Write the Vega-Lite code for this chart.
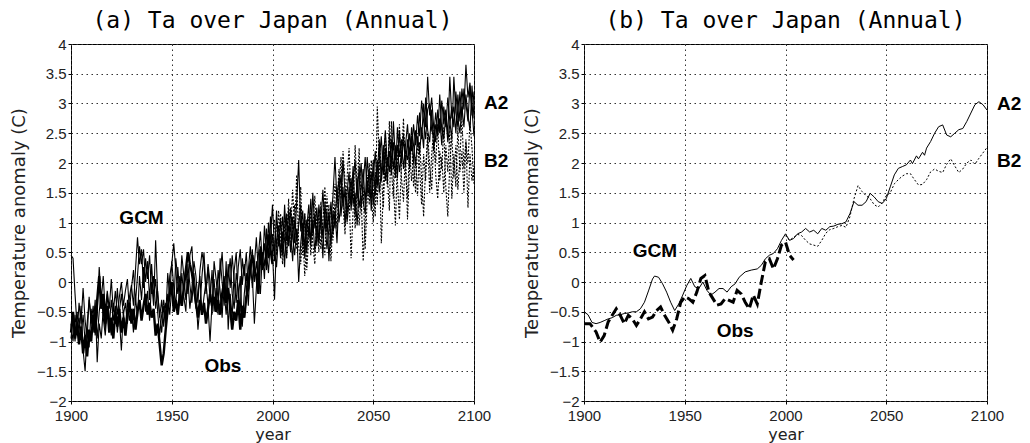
{
"$schema": "https://vega.github.io/schema/vega-lite/v6.json",
"autosize": {"type": "pad"},
"padding": {"left": 9, "top": 9, "right": 0, "bottom": 0},
"background": "white",
"spacing": 110,
"bounds": "flush",
"config": {
 "view": {"stroke": "black", "strokeWidth": 1},
 "axis": {"labelFont": "Liberation Sans", "labelFontSize": 15, "labelColor": "#222", "titleFont": "DejaVu Sans", "titleFontSize": 17, "titleFontWeight": "normal", "titleColor": "#222", "domain": false, "tickColor": "black", "tickSize": 3, "gridColor": "#333", "gridDash": [1.5, 3.5], "gridWidth": 1, "gridOpacity": 1},
 "axisX": {"titleFontSize": 16},
 "axisY": {"titleFontSize": 18},
 "title": {"font": "DejaVu Sans Mono", "fontSize": 23, "fontWeight": "normal", "color": "black", "anchor": "middle", "baseline": "alphabetic", "offset": 0},
 "text": {"font": "Liberation Sans", "fontSize": 19, "fontWeight": "bold", "color": "black"}
},
"datasets": {
"a": [
{"s":"g1","x":1900,"y":0.45},{"s":"g1","x":1901,"y":0.4},{"s":"g1","x":1902,"y":-0.2},{"s":"g1","x":1903,"y":-0.75},{"s":"g1","x":1904,"y":-0.6},{"s":"g1","x":1905,"y":-0.9},{"s":"g1","x":1906,"y":-0.55},{"s":"g1","x":1907,"y":-1.0},{"s":"g1","x":1908,"y":-0.7},{"s":"g1","x":1909,"y":-0.3},
{"s":"g1","x":1910,"y":-0.6},{"s":"g1","x":1911,"y":-0.85},{"s":"g1","x":1912,"y":-0.4},{"s":"g1","x":1913,"y":-0.95},{"s":"g1","x":1914,"y":-0.5},{"s":"g1","x":1915,"y":-0.2},{"s":"g1","x":1916,"y":-0.6},{"s":"g1","x":1917,"y":-0.9},{"s":"g1","x":1918,"y":-0.45},{"s":"g1","x":1919,"y":-0.75},
{"s":"g1","x":1920,"y":-0.3},{"s":"g1","x":1921,"y":-0.65},{"s":"g1","x":1922,"y":-0.4},{"s":"g1","x":1923,"y":-0.85},{"s":"g1","x":1924,"y":-0.5},{"s":"g1","x":1925,"y":-0.2},{"s":"g1","x":1926,"y":-0.55},{"s":"g1","x":1927,"y":-0.35},{"s":"g1","x":1928,"y":-0.7},{"s":"g1","x":1929,"y":-0.25},
{"s":"g1","x":1930,"y":-0.05},{"s":"g1","x":1931,"y":-0.4},{"s":"g1","x":1932,"y":0.2},{"s":"g1","x":1933,"y":0.75},{"s":"g1","x":1934,"y":0.3},{"s":"g1","x":1935,"y":0.55},{"s":"g1","x":1936,"y":-0.1},{"s":"g1","x":1937,"y":0.4},{"s":"g1","x":1938,"y":0.05},{"s":"g1","x":1939,"y":0.45},
{"s":"g1","x":1940,"y":-0.2},{"s":"g1","x":1941,"y":0.1},{"s":"g1","x":1942,"y":-0.45},{"s":"g1","x":1943,"y":-0.15},{"s":"g1","x":1944,"y":-0.6},{"s":"g1","x":1945,"y":-0.3},{"s":"g1","x":1946,"y":-0.75},{"s":"g1","x":1947,"y":-0.35},{"s":"g1","x":1948,"y":-0.55},{"s":"g1","x":1949,"y":0.1},
{"s":"g1","x":1950,"y":0.3},{"s":"g1","x":1951,"y":0.65},{"s":"g1","x":1952,"y":0.2},{"s":"g1","x":1953,"y":-0.2},{"s":"g1","x":1954,"y":0.1},{"s":"g1","x":1955,"y":-0.35},{"s":"g1","x":1956,"y":-0.1},{"s":"g1","x":1957,"y":0.25},{"s":"g1","x":1958,"y":-0.2},{"s":"g1","x":1959,"y":0.45},
{"s":"g1","x":1960,"y":0.6},{"s":"g1","x":1961,"y":-0.1},{"s":"g1","x":1962,"y":-0.45},{"s":"g1","x":1963,"y":-0.2},{"s":"g1","x":1964,"y":0.1},{"s":"g1","x":1965,"y":-0.55},{"s":"g1","x":1966,"y":-0.25},{"s":"g1","x":1967,"y":0.0},{"s":"g1","x":1968,"y":-0.4},{"s":"g1","x":1969,"y":-1.0},
{"s":"g1","x":1970,"y":-0.35},{"s":"g1","x":1971,"y":0.05},{"s":"g1","x":1972,"y":-0.45},{"s":"g1","x":1973,"y":0.2},{"s":"g1","x":1974,"y":-0.15},{"s":"g1","x":1975,"y":-0.6},{"s":"g1","x":1976,"y":0.1},{"s":"g1","x":1977,"y":-0.25},{"s":"g1","x":1978,"y":0.3},{"s":"g1","x":1979,"y":-0.1},
{"s":"g1","x":1980,"y":0.45},{"s":"g1","x":1981,"y":0.0},{"s":"g1","x":1982,"y":-0.35},{"s":"g1","x":1983,"y":0.25},{"s":"g1","x":1984,"y":0.55},{"s":"g1","x":1985,"y":-0.05},{"s":"g1","x":1986,"y":0.3},{"s":"g1","x":1987,"y":-0.2},{"s":"g1","x":1988,"y":0.2},{"s":"g1","x":1989,"y":0.6},
{"s":"g1","x":1990,"y":0.1},{"s":"g1","x":1991,"y":-0.7},{"s":"g1","x":1992,"y":-0.1},{"s":"g1","x":1993,"y":0.45},{"s":"g1","x":1994,"y":0.85},{"s":"g1","x":1995,"y":0.3},{"s":"g1","x":1996,"y":0.65},{"s":"g1","x":1997,"y":0.2},{"s":"g1","x":1998,"y":1.0},{"s":"g1","x":1999,"y":0.55},
{"s":"g1","x":2000,"y":0.8},{"s":"g1","x":2001,"y":0.35},{"s":"g1","x":2002,"y":1.2},{"s":"g1","x":2003,"y":0.6},{"s":"g1","x":2004,"y":1.05},{"s":"g1","x":2005,"y":0.45},{"s":"g1","x":2006,"y":1.3},{"s":"g1","x":2007,"y":0.7},{"s":"g1","x":2008,"y":0.95},{"s":"g1","x":2009,"y":0.5},
{"s":"g1","x":2010,"y":1.1},{"s":"g1","x":2011,"y":0.65},{"s":"g1","x":2012,"y":1.35},{"s":"g1","x":2013,"y":2.05},{"s":"g1","x":2014,"y":0.85},{"s":"g1","x":2015,"y":1.2},{"s":"g1","x":2016,"y":0.55},{"s":"g1","x":2017,"y":1.05},{"s":"g1","x":2018,"y":0.75},{"s":"g1","x":2019,"y":1.4},
{"s":"g1","x":2020,"y":0.8},{"s":"g1","x":2021,"y":1.15},{"s":"g1","x":2022,"y":0.6},{"s":"g1","x":2023,"y":1.3},{"s":"g1","x":2024,"y":0.95},{"s":"g1","x":2025,"y":1.55},{"s":"g1","x":2026,"y":0.9},{"s":"g1","x":2027,"y":1.2},{"s":"g1","x":2028,"y":0.35},{"s":"g1","x":2029,"y":1.0},
{"s":"g1","x":2030,"y":1.45},{"s":"g1","x":2031,"y":2.1},{"s":"g1","x":2032,"y":1.35},{"s":"g1","x":2033,"y":1.75},{"s":"g1","x":2034,"y":1.1},{"s":"g1","x":2035,"y":1.6},{"s":"g1","x":2036,"y":0.95},{"s":"g1","x":2037,"y":1.5},{"s":"g1","x":2038,"y":1.85},{"s":"g1","x":2039,"y":1.2},
{"s":"g1","x":2040,"y":1.7},{"s":"g1","x":2041,"y":2.05},{"s":"g1","x":2042,"y":1.4},{"s":"g1","x":2043,"y":1.95},{"s":"g1","x":2044,"y":1.25},{"s":"g1","x":2045,"y":1.65},{"s":"g1","x":2046,"y":2.1},{"s":"g1","x":2047,"y":1.5},{"s":"g1","x":2048,"y":1.9},{"s":"g1","x":2049,"y":1.2},
{"s":"g1","x":2050,"y":1.75},{"s":"g1","x":2051,"y":2.2},{"s":"g1","x":2052,"y":1.6},{"s":"g1","x":2053,"y":2.05},{"s":"g1","x":2054,"y":2.45},{"s":"g1","x":2055,"y":1.8},{"s":"g1","x":2056,"y":2.25},{"s":"g1","x":2057,"y":1.65},{"s":"g1","x":2058,"y":2.5},{"s":"g1","x":2059,"y":2.0},
{"s":"g1","x":2060,"y":2.35},{"s":"g1","x":2061,"y":1.75},{"s":"g1","x":2062,"y":2.6},{"s":"g1","x":2063,"y":2.1},{"s":"g1","x":2064,"y":2.4},{"s":"g1","x":2065,"y":1.9},{"s":"g1","x":2066,"y":2.3},{"s":"g1","x":2067,"y":2.65},{"s":"g1","x":2068,"y":2.15},{"s":"g1","x":2069,"y":2.45},
{"s":"g1","x":2070,"y":2.0},{"s":"g1","x":2071,"y":2.55},{"s":"g1","x":2072,"y":2.3},{"s":"g1","x":2073,"y":2.85},{"s":"g1","x":2074,"y":2.4},{"s":"g1","x":2075,"y":3.0},{"s":"g1","x":2076,"y":2.6},{"s":"g1","x":2077,"y":3.45},{"s":"g1","x":2078,"y":2.8},{"s":"g1","x":2079,"y":3.1},
{"s":"g1","x":2080,"y":2.6},{"s":"g1","x":2081,"y":2.35},{"s":"g1","x":2082,"y":2.9},{"s":"g1","x":2083,"y":2.5},{"s":"g1","x":2084,"y":3.05},{"s":"g1","x":2085,"y":2.65},{"s":"g1","x":2086,"y":2.9},{"s":"g1","x":2087,"y":2.45},{"s":"g1","x":2088,"y":3.45},{"s":"g1","x":2089,"y":2.75},
{"s":"g1","x":2090,"y":2.95},{"s":"g1","x":2091,"y":2.5},{"s":"g1","x":2092,"y":3.15},{"s":"g1","x":2093,"y":2.7},{"s":"g1","x":2094,"y":3.25},{"s":"g1","x":2095,"y":2.9},{"s":"g1","x":2096,"y":3.65},{"s":"g1","x":2097,"y":3.1},{"s":"g1","x":2098,"y":3.35},{"s":"g1","x":2099,"y":2.8},{"s":"g1","x":2100,"y":3.2},
{"s":"g2","x":1900,"y":-0.95},{"s":"g2","x":1901,"y":-0.6},{"s":"g2","x":1902,"y":-1.0},{"s":"g2","x":1903,"y":-0.5},{"s":"g2","x":1904,"y":-0.85},{"s":"g2","x":1905,"y":-0.4},{"s":"g2","x":1906,"y":-1.15},{"s":"g2","x":1907,"y":-1.5},{"s":"g2","x":1908,"y":-0.8},{"s":"g2","x":1909,"y":-1.1},
{"s":"g2","x":1910,"y":-0.45},{"s":"g2","x":1911,"y":-0.75},{"s":"g2","x":1912,"y":-0.3},{"s":"g2","x":1913,"y":-1.35},{"s":"g2","x":1914,"y":-0.7},{"s":"g2","x":1915,"y":-0.95},{"s":"g2","x":1916,"y":-0.45},{"s":"g2","x":1917,"y":-0.8},{"s":"g2","x":1918,"y":-0.2},{"s":"g2","x":1919,"y":-0.6},
{"s":"g2","x":1920,"y":-0.9},{"s":"g2","x":1921,"y":-0.35},{"s":"g2","x":1922,"y":-0.7},{"s":"g2","x":1923,"y":-0.1},{"s":"g2","x":1924,"y":-0.6},{"s":"g2","x":1925,"y":-1.15},{"s":"g2","x":1926,"y":-0.5},{"s":"g2","x":1927,"y":-0.8},{"s":"g2","x":1928,"y":-0.3},{"s":"g2","x":1929,"y":-0.65},
{"s":"g2","x":1930,"y":-0.45},{"s":"g2","x":1931,"y":-0.85},{"s":"g2","x":1932,"y":-0.25},{"s":"g2","x":1933,"y":-0.6},{"s":"g2","x":1934,"y":0.1},{"s":"g2","x":1935,"y":-0.3},{"s":"g2","x":1936,"y":0.25},{"s":"g2","x":1937,"y":-0.5},{"s":"g2","x":1938,"y":-0.15},{"s":"g2","x":1939,"y":-0.65},
{"s":"g2","x":1940,"y":0.0},{"s":"g2","x":1941,"y":-0.4},{"s":"g2","x":1942,"y":0.7},{"s":"g2","x":1943,"y":-0.2},{"s":"g2","x":1944,"y":-0.55},{"s":"g2","x":1945,"y":-0.85},{"s":"g2","x":1946,"y":-0.4},{"s":"g2","x":1947,"y":-0.7},{"s":"g2","x":1948,"y":-0.2},{"s":"g2","x":1949,"y":-0.55},
{"s":"g2","x":1950,"y":-0.1},{"s":"g2","x":1951,"y":-0.45},{"s":"g2","x":1952,"y":0.4},{"s":"g2","x":1953,"y":0.05},{"s":"g2","x":1954,"y":-0.4},{"s":"g2","x":1955,"y":0.15},{"s":"g2","x":1956,"y":-0.25},{"s":"g2","x":1957,"y":-0.5},{"s":"g2","x":1958,"y":0.3},{"s":"g2","x":1959,"y":-0.05},
{"s":"g2","x":1960,"y":-0.35},{"s":"g2","x":1961,"y":0.15},{"s":"g2","x":1962,"y":-0.2},{"s":"g2","x":1963,"y":-0.8},{"s":"g2","x":1964,"y":-0.4},{"s":"g2","x":1965,"y":0.1},{"s":"g2","x":1966,"y":0.5},{"s":"g2","x":1967,"y":-0.15},{"s":"g2","x":1968,"y":0.25},{"s":"g2","x":1969,"y":-0.3},
{"s":"g2","x":1970,"y":0.2},{"s":"g2","x":1971,"y":-0.5},{"s":"g2","x":1972,"y":-0.1},{"s":"g2","x":1973,"y":-0.55},{"s":"g2","x":1974,"y":0.4},{"s":"g2","x":1975,"y":0.0},{"s":"g2","x":1976,"y":-0.4},{"s":"g2","x":1977,"y":0.35},{"s":"g2","x":1978,"y":-0.8},{"s":"g2","x":1979,"y":-0.2},
{"s":"g2","x":1980,"y":-0.6},{"s":"g2","x":1981,"y":0.2},{"s":"g2","x":1982,"y":0.5},{"s":"g2","x":1983,"y":-0.3},{"s":"g2","x":1984,"y":0.1},{"s":"g2","x":1985,"y":-0.75},{"s":"g2","x":1986,"y":-0.2},{"s":"g2","x":1987,"y":0.15},{"s":"g2","x":1988,"y":-0.4},{"s":"g2","x":1989,"y":0.35},
{"s":"g2","x":1990,"y":-0.1},{"s":"g2","x":1991,"y":0.3},{"s":"g2","x":1992,"y":0.75},{"s":"g2","x":1993,"y":0.15},{"s":"g2","x":1994,"y":-0.2},{"s":"g2","x":1995,"y":0.5},{"s":"g2","x":1996,"y":0.05},{"s":"g2","x":1997,"y":0.9},{"s":"g2","x":1998,"y":0.4},{"s":"g2","x":1999,"y":1.1},
{"s":"g2","x":2000,"y":0.5},{"s":"g2","x":2001,"y":-0.3},{"s":"g2","x":2002,"y":0.7},{"s":"g2","x":2003,"y":0.95},{"s":"g2","x":2004,"y":0.4},{"s":"g2","x":2005,"y":0.85},{"s":"g2","x":2006,"y":0.25},{"s":"g2","x":2007,"y":1.15},{"s":"g2","x":2008,"y":0.6},{"s":"g2","x":2009,"y":1.25},
{"s":"g2","x":2010,"y":0.75},{"s":"g2","x":2011,"y":0.45},{"s":"g2","x":2012,"y":0.9},{"s":"g2","x":2013,"y":0.0},{"s":"g2","x":2014,"y":0.65},{"s":"g2","x":2015,"y":1.0},{"s":"g2","x":2016,"y":0.4},{"s":"g2","x":2017,"y":0.9},{"s":"g2","x":2018,"y":1.3},{"s":"g2","x":2019,"y":0.7},
{"s":"g2","x":2020,"y":1.05},{"s":"g2","x":2021,"y":0.5},{"s":"g2","x":2022,"y":0.95},{"s":"g2","x":2023,"y":0.65},{"s":"g2","x":2024,"y":1.25},{"s":"g2","x":2025,"y":0.75},{"s":"g2","x":2026,"y":1.1},{"s":"g2","x":2027,"y":0.55},{"s":"g2","x":2028,"y":0.9},{"s":"g2","x":2029,"y":1.35},
{"s":"g2","x":2030,"y":0.8},{"s":"g2","x":2031,"y":1.2},{"s":"g2","x":2032,"y":0.65},{"s":"g2","x":2033,"y":1.45},{"s":"g2","x":2034,"y":1.8},{"s":"g2","x":2035,"y":1.25},{"s":"g2","x":2036,"y":1.55},{"s":"g2","x":2037,"y":1.0},{"s":"g2","x":2038,"y":1.35},{"s":"g2","x":2039,"y":1.75},
{"s":"g2","x":2040,"y":1.3},{"s":"g2","x":2041,"y":1.5},{"s":"g2","x":2042,"y":0.95},{"s":"g2","x":2043,"y":1.6},{"s":"g2","x":2044,"y":2.0},{"s":"g2","x":2045,"y":1.35},{"s":"g2","x":2046,"y":1.15},{"s":"g2","x":2047,"y":1.7},{"s":"g2","x":2048,"y":1.45},{"s":"g2","x":2049,"y":1.85},
{"s":"g2","x":2050,"y":1.3},{"s":"g2","x":2051,"y":1.6},{"s":"g2","x":2052,"y":2.05},{"s":"g2","x":2053,"y":1.5},{"s":"g2","x":2054,"y":1.85},{"s":"g2","x":2055,"y":2.3},{"s":"g2","x":2056,"y":1.7},{"s":"g2","x":2057,"y":2.1},{"s":"g2","x":2058,"y":1.85},{"s":"g2","x":2059,"y":2.4},
{"s":"g2","x":2060,"y":1.9},{"s":"g2","x":2061,"y":2.25},{"s":"g2","x":2062,"y":1.75},{"s":"g2","x":2063,"y":2.55},{"s":"g2","x":2064,"y":2.0},{"s":"g2","x":2065,"y":2.35},{"s":"g2","x":2066,"y":2.2},{"s":"g2","x":2067,"y":2.05},{"s":"g2","x":2068,"y":2.5},{"s":"g2","x":2069,"y":2.2},
{"s":"g2","x":2070,"y":2.65},{"s":"g2","x":2071,"y":2.3},{"s":"g2","x":2072,"y":2.8},{"s":"g2","x":2073,"y":2.45},{"s":"g2","x":2074,"y":3.05},{"s":"g2","x":2075,"y":2.7},{"s":"g2","x":2076,"y":2.4},{"s":"g2","x":2077,"y":2.9},{"s":"g2","x":2078,"y":3.0},{"s":"g2","x":2079,"y":2.55},
{"s":"g2","x":2080,"y":2.45},{"s":"g2","x":2081,"y":2.85},{"s":"g2","x":2082,"y":2.5},{"s":"g2","x":2083,"y":2.75},{"s":"g2","x":2084,"y":2.3},{"s":"g2","x":2085,"y":2.95},{"s":"g2","x":2086,"y":2.6},{"s":"g2","x":2087,"y":3.1},{"s":"g2","x":2088,"y":2.7},{"s":"g2","x":2089,"y":2.4},
{"s":"g2","x":2090,"y":3.45},{"s":"g2","x":2091,"y":2.85},{"s":"g2","x":2092,"y":2.6},{"s":"g2","x":2093,"y":3.2},{"s":"g2","x":2094,"y":2.75},{"s":"g2","x":2095,"y":3.25},{"s":"g2","x":2096,"y":3.0},{"s":"g2","x":2097,"y":2.7},{"s":"g2","x":2098,"y":3.3},{"s":"g2","x":2099,"y":2.9},{"s":"g2","x":2100,"y":2.45},
{"s":"g3","x":1900,"y":-0.7},{"s":"g3","x":1901,"y":-1.0},{"s":"g3","x":1902,"y":-0.55},{"s":"g3","x":1903,"y":-0.9},{"s":"g3","x":1904,"y":-0.35},{"s":"g3","x":1905,"y":-0.7},{"s":"g3","x":1906,"y":-0.1},{"s":"g3","x":1907,"y":-0.65},{"s":"g3","x":1908,"y":-0.95},{"s":"g3","x":1909,"y":-0.25},
{"s":"g3","x":1910,"y":-0.7},{"s":"g3","x":1911,"y":-0.4},{"s":"g3","x":1912,"y":-0.9},{"s":"g3","x":1913,"y":-0.55},{"s":"g3","x":1914,"y":0.25},{"s":"g3","x":1915,"y":-0.3},{"s":"g3","x":1916,"y":0.1},{"s":"g3","x":1917,"y":-0.5},{"s":"g3","x":1918,"y":-0.15},{"s":"g3","x":1919,"y":-0.45},
{"s":"g3","x":1920,"y":0.05},{"s":"g3","x":1921,"y":-0.5},{"s":"g3","x":1922,"y":-0.15},{"s":"g3","x":1923,"y":-0.55},{"s":"g3","x":1924,"y":-0.25},{"s":"g3","x":1925,"y":0.0},{"s":"g3","x":1926,"y":-0.4},{"s":"g3","x":1927,"y":-0.15},{"s":"g3","x":1928,"y":0.05},{"s":"g3","x":1929,"y":-0.5},
{"s":"g3","x":1930,"y":-0.1},{"s":"g3","x":1931,"y":0.2},{"s":"g3","x":1932,"y":-0.35},{"s":"g3","x":1933,"y":0.1},{"s":"g3","x":1934,"y":0.6},{"s":"g3","x":1935,"y":0.3},{"s":"g3","x":1936,"y":0.55},{"s":"g3","x":1937,"y":0.0},{"s":"g3","x":1938,"y":0.35},{"s":"g3","x":1939,"y":-0.3},
{"s":"g3","x":1940,"y":0.3},{"s":"g3","x":1941,"y":-0.25},{"s":"g3","x":1942,"y":0.05},{"s":"g3","x":1943,"y":-0.5},{"s":"g3","x":1944,"y":-0.9},{"s":"g3","x":1945,"y":-0.55},{"s":"g3","x":1946,"y":-0.3},{"s":"g3","x":1947,"y":-0.6},{"s":"g3","x":1948,"y":0.15},{"s":"g3","x":1949,"y":-0.25},
{"s":"g3","x":1950,"y":0.35},{"s":"g3","x":1951,"y":-0.1},{"s":"g3","x":1952,"y":-0.4},{"s":"g3","x":1953,"y":0.25},{"s":"g3","x":1954,"y":-0.2},{"s":"g3","x":1955,"y":0.45},{"s":"g3","x":1956,"y":0.1},{"s":"g3","x":1957,"y":-0.3},{"s":"g3","x":1958,"y":0.05},{"s":"g3","x":1959,"y":-0.45},
{"s":"g3","x":1960,"y":-0.1},{"s":"g3","x":1961,"y":0.35},{"s":"g3","x":1962,"y":0.1},{"s":"g3","x":1963,"y":-0.35},{"s":"g3","x":1964,"y":0.2},{"s":"g3","x":1965,"y":0.5},{"s":"g3","x":1966,"y":0.3},{"s":"g3","x":1967,"y":-0.2},{"s":"g3","x":1968,"y":0.3},{"s":"g3","x":1969,"y":0.0},
{"s":"g3","x":1970,"y":-0.55},{"s":"g3","x":1971,"y":0.35},{"s":"g3","x":1972,"y":0.05},{"s":"g3","x":1973,"y":-0.3},{"s":"g3","x":1974,"y":0.15},{"s":"g3","x":1975,"y":0.5},{"s":"g3","x":1976,"y":-0.15},{"s":"g3","x":1977,"y":-0.55},{"s":"g3","x":1978,"y":0.05},{"s":"g3","x":1979,"y":0.4},
{"s":"g3","x":1980,"y":-0.2},{"s":"g3","x":1981,"y":-0.45},{"s":"g3","x":1982,"y":0.15},{"s":"g3","x":1983,"y":-0.1},{"s":"g3","x":1984,"y":-0.5},{"s":"g3","x":1985,"y":0.4},{"s":"g3","x":1986,"y":0.1},{"s":"g3","x":1987,"y":0.5},{"s":"g3","x":1988,"y":-0.15},{"s":"g3","x":1989,"y":0.15},
{"s":"g3","x":1990,"y":0.55},{"s":"g3","x":1991,"y":0.0},{"s":"g3","x":1992,"y":0.35},{"s":"g3","x":1993,"y":-0.05},{"s":"g3","x":1994,"y":0.6},{"s":"g3","x":1995,"y":0.2},{"s":"g3","x":1996,"y":0.95},{"s":"g3","x":1997,"y":0.5},{"s":"g3","x":1998,"y":0.15},{"s":"g3","x":1999,"y":0.75},
{"s":"g3","x":2000,"y":1.3},{"s":"g3","x":2001,"y":0.55},{"s":"g3","x":2002,"y":0.25},{"s":"g3","x":2003,"y":0.8},{"s":"g3","x":2004,"y":0.5},{"s":"g3","x":2005,"y":1.1},{"s":"g3","x":2006,"y":0.7},{"s":"g3","x":2007,"y":0.4},{"s":"g3","x":2008,"y":1.2},{"s":"g3","x":2009,"y":0.85},
{"s":"g3","x":2010,"y":0.35},{"s":"g3","x":2011,"y":1.05},{"s":"g3","x":2012,"y":0.7},{"s":"g3","x":2013,"y":0.95},{"s":"g3","x":2014,"y":1.3},{"s":"g3","x":2015,"y":0.6},{"s":"g3","x":2016,"y":1.15},{"s":"g3","x":2017,"y":0.5},{"s":"g3","x":2018,"y":0.95},{"s":"g3","x":2019,"y":0.6},
{"s":"g3","x":2020,"y":1.5},{"s":"g3","x":2021,"y":0.9},{"s":"g3","x":2022,"y":1.25},{"s":"g3","x":2023,"y":0.7},{"s":"g3","x":2024,"y":1.05},{"s":"g3","x":2025,"y":0.4},{"s":"g3","x":2026,"y":1.35},{"s":"g3","x":2027,"y":0.85},{"s":"g3","x":2028,"y":1.15},{"s":"g3","x":2029,"y":0.6},
{"s":"g3","x":2030,"y":1.2},{"s":"g3","x":2031,"y":0.9},{"s":"g3","x":2032,"y":1.6},{"s":"g3","x":2033,"y":1.0},{"s":"g3","x":2034,"y":1.35},{"s":"g3","x":2035,"y":2.05},{"s":"g3","x":2036,"y":1.5},{"s":"g3","x":2037,"y":1.15},{"s":"g3","x":2038,"y":1.6},{"s":"g3","x":2039,"y":1.3},
{"s":"g3","x":2040,"y":1.95},{"s":"g3","x":2041,"y":1.1},{"s":"g3","x":2042,"y":1.75},{"s":"g3","x":2043,"y":1.25},{"s":"g3","x":2044,"y":1.55},{"s":"g3","x":2045,"y":1.9},{"s":"g3","x":2046,"y":1.3},{"s":"g3","x":2047,"y":2.1},{"s":"g3","x":2048,"y":1.6},{"s":"g3","x":2049,"y":1.4},
{"s":"g3","x":2050,"y":2.05},{"s":"g3","x":2051,"y":1.45},{"s":"g3","x":2052,"y":1.85},{"s":"g3","x":2053,"y":2.35},{"s":"g3","x":2054,"y":1.7},{"s":"g3","x":2055,"y":2.05},{"s":"g3","x":2056,"y":2.55},{"s":"g3","x":2057,"y":1.95},{"s":"g3","x":2058,"y":2.2},{"s":"g3","x":2059,"y":1.8},
{"s":"g3","x":2060,"y":2.7},{"s":"g3","x":2061,"y":2.05},{"s":"g3","x":2062,"y":2.3},{"s":"g3","x":2063,"y":1.85},{"s":"g3","x":2064,"y":2.15},{"s":"g3","x":2065,"y":2.5},{"s":"g3","x":2066,"y":1.95},{"s":"g3","x":2067,"y":2.4},{"s":"g3","x":2068,"y":1.9},{"s":"g3","x":2069,"y":2.6},
{"s":"g3","x":2070,"y":2.3},{"s":"g3","x":2071,"y":1.95},{"s":"g3","x":2072,"y":2.45},{"s":"g3","x":2073,"y":2.15},{"s":"g3","x":2074,"y":2.6},{"s":"g3","x":2075,"y":2.25},{"s":"g3","x":2076,"y":3.1},{"s":"g3","x":2077,"y":2.55},{"s":"g3","x":2078,"y":2.35},{"s":"g3","x":2079,"y":2.9},
{"s":"g3","x":2080,"y":2.2},{"s":"g3","x":2081,"y":2.65},{"s":"g3","x":2082,"y":2.45},{"s":"g3","x":2083,"y":3.15},{"s":"g3","x":2084,"y":2.55},{"s":"g3","x":2085,"y":2.4},{"s":"g3","x":2086,"y":2.8},{"s":"g3","x":2087,"y":2.35},{"s":"g3","x":2088,"y":2.65},{"s":"g3","x":2089,"y":2.95},
{"s":"g3","x":2090,"y":2.6},{"s":"g3","x":2091,"y":3.2},{"s":"g3","x":2092,"y":2.75},{"s":"g3","x":2093,"y":2.5},{"s":"g3","x":2094,"y":2.95},{"s":"g3","x":2095,"y":2.6},{"s":"g3","x":2096,"y":3.15},{"s":"g3","x":2097,"y":2.8},{"s":"g3","x":2098,"y":2.55},{"s":"g3","x":2099,"y":3.3},{"s":"g3","x":2100,"y":2.75},
{"s":"b1","x":2000,"y":0.8},{"s":"b1","x":2001,"y":0.5},{"s":"b1","x":2002,"y":1.0},{"s":"b1","x":2003,"y":0.6},{"s":"b1","x":2004,"y":1.15},{"s":"b1","x":2005,"y":0.7},{"s":"b1","x":2006,"y":0.95},{"s":"b1","x":2007,"y":0.4},{"s":"b1","x":2008,"y":1.25},{"s":"b1","x":2009,"y":0.85},
{"s":"b1","x":2010,"y":1.55},{"s":"b1","x":2011,"y":0.9},{"s":"b1","x":2012,"y":1.8},{"s":"b1","x":2013,"y":0.6},{"s":"b1","x":2014,"y":0.3},{"s":"b1","x":2015,"y":0.85},{"s":"b1","x":2016,"y":0.1},{"s":"b1","x":2017,"y":0.7},{"s":"b1","x":2018,"y":1.1},{"s":"b1","x":2019,"y":0.45},
{"s":"b1","x":2020,"y":0.9},{"s":"b1","x":2021,"y":1.45},{"s":"b1","x":2022,"y":0.7},{"s":"b1","x":2023,"y":1.2},{"s":"b1","x":2024,"y":0.55},{"s":"b1","x":2025,"y":1.0},{"s":"b1","x":2026,"y":1.6},{"s":"b1","x":2027,"y":0.8},{"s":"b1","x":2028,"y":1.3},{"s":"b1","x":2029,"y":0.35},
{"s":"b1","x":2030,"y":1.05},{"s":"b1","x":2031,"y":1.65},{"s":"b1","x":2032,"y":1.25},{"s":"b1","x":2033,"y":1.9},{"s":"b1","x":2034,"y":1.4},{"s":"b1","x":2035,"y":2.2},{"s":"b1","x":2036,"y":1.7},{"s":"b1","x":2037,"y":1.05},{"s":"b1","x":2038,"y":1.5},{"s":"b1","x":2039,"y":0.4},
{"s":"b1","x":2040,"y":1.2},{"s":"b1","x":2041,"y":2.3},{"s":"b1","x":2042,"y":1.6},{"s":"b1","x":2043,"y":0.95},{"s":"b1","x":2044,"y":1.45},{"s":"b1","x":2045,"y":0.35},{"s":"b1","x":2046,"y":1.0},{"s":"b1","x":2047,"y":1.8},{"s":"b1","x":2048,"y":1.3},{"s":"b1","x":2049,"y":2.05},
{"s":"b1","x":2050,"y":1.55},{"s":"b1","x":2051,"y":1.1},{"s":"b1","x":2052,"y":2.95},{"s":"b1","x":2053,"y":2.1},{"s":"b1","x":2054,"y":0.65},{"s":"b1","x":2055,"y":1.5},{"s":"b1","x":2056,"y":2.5},{"s":"b1","x":2057,"y":1.8},{"s":"b1","x":2058,"y":1.2},{"s":"b1","x":2059,"y":2.7},
{"s":"b1","x":2060,"y":1.65},{"s":"b1","x":2061,"y":0.95},{"s":"b1","x":2062,"y":2.05},{"s":"b1","x":2063,"y":2.65},{"s":"b1","x":2064,"y":1.75},{"s":"b1","x":2065,"y":1.35},{"s":"b1","x":2066,"y":2.2},{"s":"b1","x":2067,"y":1.05},{"s":"b1","x":2068,"y":1.9},{"s":"b1","x":2069,"y":2.45},
{"s":"b1","x":2070,"y":1.6},{"s":"b1","x":2071,"y":2.1},{"s":"b1","x":2072,"y":1.45},{"s":"b1","x":2073,"y":2.35},{"s":"b1","x":2074,"y":1.75},{"s":"b1","x":2075,"y":1.1},{"s":"b1","x":2076,"y":1.95},{"s":"b1","x":2077,"y":2.4},{"s":"b1","x":2078,"y":1.5},{"s":"b1","x":2079,"y":2.15},
{"s":"b1","x":2080,"y":2.55},{"s":"b1","x":2081,"y":1.8},{"s":"b1","x":2082,"y":1.4},{"s":"b1","x":2083,"y":2.2},{"s":"b1","x":2084,"y":1.9},{"s":"b1","x":2085,"y":2.6},{"s":"b1","x":2086,"y":1.6},{"s":"b1","x":2087,"y":1.1},{"s":"b1","x":2088,"y":2.0},{"s":"b1","x":2089,"y":2.45},
{"s":"b1","x":2090,"y":1.75},{"s":"b1","x":2091,"y":2.3},{"s":"b1","x":2092,"y":1.55},{"s":"b1","x":2093,"y":2.1},{"s":"b1","x":2094,"y":2.75},{"s":"b1","x":2095,"y":1.9},{"s":"b1","x":2096,"y":2.4},{"s":"b1","x":2097,"y":1.25},{"s":"b1","x":2098,"y":2.15},{"s":"b1","x":2099,"y":1.7},{"s":"b1","x":2100,"y":1.95},
{"s":"b2","x":2000,"y":0.6},{"s":"b2","x":2001,"y":1.05},{"s":"b2","x":2002,"y":0.45},{"s":"b2","x":2003,"y":1.2},{"s":"b2","x":2004,"y":0.75},{"s":"b2","x":2005,"y":0.3},{"s":"b2","x":2006,"y":1.1},{"s":"b2","x":2007,"y":0.65},{"s":"b2","x":2008,"y":1.4},{"s":"b2","x":2009,"y":0.5},
{"s":"b2","x":2010,"y":0.9},{"s":"b2","x":2011,"y":1.3},{"s":"b2","x":2012,"y":0.55},{"s":"b2","x":2013,"y":1.0},{"s":"b2","x":2014,"y":1.6},{"s":"b2","x":2015,"y":0.45},{"s":"b2","x":2016,"y":1.15},{"s":"b2","x":2017,"y":0.2},{"s":"b2","x":2018,"y":0.75},{"s":"b2","x":2019,"y":1.2},
{"s":"b2","x":2020,"y":0.65},{"s":"b2","x":2021,"y":0.3},{"s":"b2","x":2022,"y":1.1},{"s":"b2","x":2023,"y":0.5},{"s":"b2","x":2024,"y":1.35},{"s":"b2","x":2025,"y":0.75},{"s":"b2","x":2026,"y":0.45},{"s":"b2","x":2027,"y":1.45},{"s":"b2","x":2028,"y":0.95},{"s":"b2","x":2029,"y":1.25},
{"s":"b2","x":2030,"y":0.7},{"s":"b2","x":2031,"y":1.35},{"s":"b2","x":2032,"y":0.9},{"s":"b2","x":2033,"y":1.55},{"s":"b2","x":2034,"y":2.1},{"s":"b2","x":2035,"y":1.3},{"s":"b2","x":2036,"y":0.8},{"s":"b2","x":2037,"y":1.75},{"s":"b2","x":2038,"y":2.25},{"s":"b2","x":2039,"y":1.4},
{"s":"b2","x":2040,"y":1.85},{"s":"b2","x":2041,"y":0.9},{"s":"b2","x":2042,"y":1.5},{"s":"b2","x":2043,"y":2.25},{"s":"b2","x":2044,"y":1.15},{"s":"b2","x":2045,"y":1.6},{"s":"b2","x":2046,"y":0.55},{"s":"b2","x":2047,"y":1.4},{"s":"b2","x":2048,"y":2.0},{"s":"b2","x":2049,"y":1.45},
{"s":"b2","x":2050,"y":1.0},{"s":"b2","x":2051,"y":1.85},{"s":"b2","x":2052,"y":1.3},{"s":"b2","x":2053,"y":2.4},{"s":"b2","x":2054,"y":1.85},{"s":"b2","x":2055,"y":1.25},{"s":"b2","x":2056,"y":2.15},{"s":"b2","x":2057,"y":1.6},{"s":"b2","x":2058,"y":2.7},{"s":"b2","x":2059,"y":1.9},
{"s":"b2","x":2060,"y":1.4},{"s":"b2","x":2061,"y":2.3},{"s":"b2","x":2062,"y":1.7},{"s":"b2","x":2063,"y":1.05},{"s":"b2","x":2064,"y":2.0},{"s":"b2","x":2065,"y":2.75},{"s":"b2","x":2066,"y":1.85},{"s":"b2","x":2067,"y":1.4},{"s":"b2","x":2068,"y":2.25},{"s":"b2","x":2069,"y":1.7},
{"s":"b2","x":2070,"y":2.05},{"s":"b2","x":2071,"y":1.5},{"s":"b2","x":2072,"y":2.4},{"s":"b2","x":2073,"y":1.9},{"s":"b2","x":2074,"y":1.3},{"s":"b2","x":2075,"y":2.15},{"s":"b2","x":2076,"y":1.7},{"s":"b2","x":2077,"y":2.5},{"s":"b2","x":2078,"y":1.95},{"s":"b2","x":2079,"y":1.55},
{"s":"b2","x":2080,"y":2.35},{"s":"b2","x":2081,"y":2.0},{"s":"b2","x":2082,"y":2.65},{"s":"b2","x":2083,"y":1.7},{"s":"b2","x":2084,"y":2.1},{"s":"b2","x":2085,"y":1.5},{"s":"b2","x":2086,"y":2.3},{"s":"b2","x":2087,"y":1.85},{"s":"b2","x":2088,"y":2.55},{"s":"b2","x":2089,"y":1.4},
{"s":"b2","x":2090,"y":2.15},{"s":"b2","x":2091,"y":1.6},{"s":"b2","x":2092,"y":2.6},{"s":"b2","x":2093,"y":1.85},{"s":"b2","x":2094,"y":2.2},{"s":"b2","x":2095,"y":1.5},{"s":"b2","x":2096,"y":2.35},{"s":"b2","x":2097,"y":2.0},{"s":"b2","x":2098,"y":2.7},{"s":"b2","x":2099,"y":2.25},{"s":"b2","x":2100,"y":1.65},
{"s":"ob","x":1900,"y":-0.85},{"s":"ob","x":1901,"y":-0.5},{"s":"ob","x":1902,"y":-0.95},{"s":"ob","x":1903,"y":-0.7},{"s":"ob","x":1904,"y":-1.05},{"s":"ob","x":1905,"y":-0.75},{"s":"ob","x":1906,"y":-1.2},{"s":"ob","x":1907,"y":-0.9},{"s":"ob","x":1908,"y":-1.25},{"s":"ob","x":1909,"y":-0.8},
{"s":"ob","x":1910,"y":-1.0},{"s":"ob","x":1911,"y":-0.55},{"s":"ob","x":1912,"y":-0.85},{"s":"ob","x":1913,"y":-0.3},{"s":"ob","x":1914,"y":0.1},{"s":"ob","x":1915,"y":-0.45},{"s":"ob","x":1916,"y":-0.2},{"s":"ob","x":1917,"y":-0.7},{"s":"ob","x":1918,"y":-0.4},{"s":"ob","x":1919,"y":-0.85},
{"s":"ob","x":1920,"y":-0.6},{"s":"ob","x":1921,"y":-0.95},{"s":"ob","x":1922,"y":-0.5},{"s":"ob","x":1923,"y":-0.75},{"s":"ob","x":1924,"y":-0.45},{"s":"ob","x":1925,"y":-0.85},{"s":"ob","x":1926,"y":-0.6},{"s":"ob","x":1927,"y":-0.9},{"s":"ob","x":1928,"y":-0.55},{"s":"ob","x":1929,"y":-0.35},
{"s":"ob","x":1930,"y":-0.7},{"s":"ob","x":1931,"y":-0.45},{"s":"ob","x":1932,"y":-0.8},{"s":"ob","x":1933,"y":-0.5},{"s":"ob","x":1934,"y":-0.3},{"s":"ob","x":1935,"y":-0.65},{"s":"ob","x":1936,"y":-0.4},{"s":"ob","x":1937,"y":-0.2},{"s":"ob","x":1938,"y":-0.55},{"s":"ob","x":1939,"y":-0.35},
{"s":"ob","x":1940,"y":-0.6},{"s":"ob","x":1941,"y":-0.45},{"s":"ob","x":1942,"y":-0.9},{"s":"ob","x":1943,"y":-0.7},{"s":"ob","x":1944,"y":-1.05},{"s":"ob","x":1945,"y":-1.4},{"s":"ob","x":1946,"y":-1.2},{"s":"ob","x":1947,"y":-0.8},{"s":"ob","x":1948,"y":-0.45},{"s":"ob","x":1949,"y":-0.2},
{"s":"ob","x":1950,"y":0.0},{"s":"ob","x":1951,"y":-0.5},{"s":"ob","x":1952,"y":-0.3},{"s":"ob","x":1953,"y":-0.55},{"s":"ob","x":1954,"y":-0.2},{"s":"ob","x":1955,"y":-0.4},{"s":"ob","x":1956,"y":-0.1},{"s":"ob","x":1957,"y":0.2},{"s":"ob","x":1958,"y":0.5},{"s":"ob","x":1959,"y":0.3},
{"s":"ob","x":1960,"y":0.15},{"s":"ob","x":1961,"y":-0.1},{"s":"ob","x":1962,"y":-0.35},{"s":"ob","x":1963,"y":-0.6},{"s":"ob","x":1964,"y":-0.3},{"s":"ob","x":1965,"y":-0.55},{"s":"ob","x":1966,"y":-0.35},{"s":"ob","x":1967,"y":-0.7},{"s":"ob","x":1968,"y":-0.45},{"s":"ob","x":1969,"y":-0.2},
{"s":"ob","x":1970,"y":-0.4},{"s":"ob","x":1971,"y":-0.25},{"s":"ob","x":1972,"y":-0.5},{"s":"ob","x":1973,"y":-0.3},{"s":"ob","x":1974,"y":-0.55},{"s":"ob","x":1975,"y":-0.2},{"s":"ob","x":1976,"y":0.0},{"s":"ob","x":1977,"y":-0.35},{"s":"ob","x":1978,"y":-0.1},{"s":"ob","x":1979,"y":-0.45},
{"s":"ob","x":1980,"y":-0.8},{"s":"ob","x":1981,"y":-0.5},{"s":"ob","x":1982,"y":-0.65},{"s":"ob","x":1983,"y":-0.3},{"s":"ob","x":1984,"y":-0.8},{"s":"ob","x":1985,"y":-0.4},{"s":"ob","x":1986,"y":-0.6},{"s":"ob","x":1987,"y":-0.25},{"s":"ob","x":1988,"y":-0.1},{"s":"ob","x":1989,"y":0.3},
{"s":"ob","x":1990,"y":0.45},{"s":"ob","x":1991,"y":0.2},{"s":"ob","x":1992,"y":0.1},{"s":"ob","x":1993,"y":-0.2},{"s":"ob","x":1994,"y":0.55},{"s":"ob","x":1995,"y":0.25},{"s":"ob","x":1996,"y":0.3},{"s":"ob","x":1997,"y":0.45},{"s":"ob","x":1998,"y":0.8},{"s":"ob","x":1999,"y":0.55},{"s":"ob","x":2000,"y":0.3}
],
"b": [
{"s":"gcm","x":1900,"y":-0.5},{"s":"gcm","x":1902,"y":-0.55},{"s":"gcm","x":1904,"y":-0.68},{"s":"gcm","x":1906,"y":-0.7},{"s":"gcm","x":1908,"y":-0.68},{"s":"gcm","x":1910,"y":-0.65},{"s":"gcm","x":1912,"y":-0.62},{"s":"gcm","x":1914,"y":-0.6},{"s":"gcm","x":1916,"y":-0.56},{"s":"gcm","x":1918,"y":-0.55},
{"s":"gcm","x":1920,"y":-0.53},{"s":"gcm","x":1922,"y":-0.52},{"s":"gcm","x":1924,"y":-0.5},{"s":"gcm","x":1926,"y":-0.5},{"s":"gcm","x":1928,"y":-0.45},{"s":"gcm","x":1930,"y":-0.34},{"s":"gcm","x":1932,"y":-0.15},{"s":"gcm","x":1934,"y":0.05},{"s":"gcm","x":1935,"y":0.1},{"s":"gcm","x":1937,"y":0.08},
{"s":"gcm","x":1939,"y":-0.03},{"s":"gcm","x":1941,"y":-0.17},{"s":"gcm","x":1943,"y":-0.34},{"s":"gcm","x":1945,"y":-0.48},{"s":"gcm","x":1947,"y":-0.37},{"s":"gcm","x":1949,"y":-0.22},{"s":"gcm","x":1951,"y":-0.06},{"s":"gcm","x":1953,"y":0.06},{"s":"gcm","x":1955,"y":-0.08},{"s":"gcm","x":1957,"y":-0.11},
{"s":"gcm","x":1959,"y":0.0},{"s":"gcm","x":1961,"y":-0.14},{"s":"gcm","x":1963,"y":-0.22},{"s":"gcm","x":1965,"y":-0.17},{"s":"gcm","x":1967,"y":-0.11},{"s":"gcm","x":1969,"y":-0.11},{"s":"gcm","x":1971,"y":-0.17},{"s":"gcm","x":1973,"y":-0.08},{"s":"gcm","x":1975,"y":-0.03},{"s":"gcm","x":1977,"y":0.08},
{"s":"gcm","x":1980,"y":0.17},{"s":"gcm","x":1983,"y":0.2},{"s":"gcm","x":1986,"y":0.22},{"s":"gcm","x":1988,"y":0.28},{"s":"gcm","x":1990,"y":0.39},{"s":"gcm","x":1992,"y":0.45},{"s":"gcm","x":1994,"y":0.48},{"s":"gcm","x":1996,"y":0.56},{"s":"gcm","x":1998,"y":0.7},{"s":"gcm","x":2000,"y":0.81},
{"s":"gcm","x":2002,"y":0.7},{"s":"gcm","x":2004,"y":0.73},{"s":"gcm","x":2006,"y":0.81},{"s":"gcm","x":2008,"y":0.84},{"s":"gcm","x":2010,"y":0.9},{"s":"gcm","x":2012,"y":0.84},{"s":"gcm","x":2014,"y":0.87},{"s":"gcm","x":2016,"y":0.81},{"s":"gcm","x":2018,"y":0.9},{"s":"gcm","x":2020,"y":0.87},
{"s":"gcm","x":2022,"y":0.93},{"s":"gcm","x":2024,"y":0.94},{"s":"gcm","x":2026,"y":0.97},{"s":"gcm","x":2028,"y":0.98},{"s":"gcm","x":2030,"y":1.01},{"s":"gcm","x":2032,"y":1.15},{"s":"gcm","x":2034,"y":1.35},{"s":"gcm","x":2036,"y":1.29},{"s":"gcm","x":2038,"y":1.29},{"s":"gcm","x":2040,"y":1.35},
{"s":"gcm","x":2042,"y":1.49},{"s":"gcm","x":2044,"y":1.43},{"s":"gcm","x":2046,"y":1.35},{"s":"gcm","x":2048,"y":1.32},{"s":"gcm","x":2050,"y":1.4},{"s":"gcm","x":2052,"y":1.6},{"s":"gcm","x":2054,"y":1.8},{"s":"gcm","x":2056,"y":1.91},{"s":"gcm","x":2058,"y":1.94},{"s":"gcm","x":2060,"y":1.97},
{"s":"gcm","x":2062,"y":2.05},{"s":"gcm","x":2063,"y":1.99},{"s":"gcm","x":2065,"y":2.12},{"s":"gcm","x":2066,"y":2.07},{"s":"gcm","x":2068,"y":2.18},{"s":"gcm","x":2069,"y":2.13},{"s":"gcm","x":2070,"y":2.25},{"s":"gcm","x":2072,"y":2.36},{"s":"gcm","x":2074,"y":2.5},{"s":"gcm","x":2076,"y":2.61},
{"s":"gcm","x":2078,"y":2.64},{"s":"gcm","x":2080,"y":2.47},{"s":"gcm","x":2082,"y":2.44},{"s":"gcm","x":2084,"y":2.5},{"s":"gcm","x":2086,"y":2.56},{"s":"gcm","x":2088,"y":2.58},{"s":"gcm","x":2090,"y":2.7},{"s":"gcm","x":2092,"y":2.84},{"s":"gcm","x":2094,"y":2.98},{"s":"gcm","x":2096,"y":3.03},
{"s":"gcm","x":2098,"y":2.98},{"s":"gcm","x":2100,"y":2.89},
{"s":"b2","x":2000,"y":0.78},{"s":"b2","x":2002,"y":0.7},{"s":"b2","x":2004,"y":0.75},{"s":"b2","x":2006,"y":0.8},{"s":"b2","x":2008,"y":0.78},{"s":"b2","x":2010,"y":0.7},{"s":"b2","x":2012,"y":0.64},{"s":"b2","x":2014,"y":0.62},{"s":"b2","x":2016,"y":0.6},{"s":"b2","x":2018,"y":0.7},
{"s":"b2","x":2020,"y":0.82},{"s":"b2","x":2022,"y":0.88},{"s":"b2","x":2024,"y":0.9},{"s":"b2","x":2026,"y":0.93},{"s":"b2","x":2028,"y":0.95},{"s":"b2","x":2030,"y":0.92},{"s":"b2","x":2032,"y":1.1},{"s":"b2","x":2034,"y":1.4},{"s":"b2","x":2036,"y":1.62},{"s":"b2","x":2038,"y":1.52},
{"s":"b2","x":2040,"y":1.45},{"s":"b2","x":2042,"y":1.4},{"s":"b2","x":2044,"y":1.3},{"s":"b2","x":2046,"y":1.26},{"s":"b2","x":2048,"y":1.33},{"s":"b2","x":2050,"y":1.45},{"s":"b2","x":2052,"y":1.5},{"s":"b2","x":2054,"y":1.65},{"s":"b2","x":2056,"y":1.72},{"s":"b2","x":2058,"y":1.78},
{"s":"b2","x":2060,"y":1.82},{"s":"b2","x":2062,"y":1.82},{"s":"b2","x":2064,"y":1.72},{"s":"b2","x":2066,"y":1.63},{"s":"b2","x":2068,"y":1.64},{"s":"b2","x":2070,"y":1.72},{"s":"b2","x":2072,"y":1.85},{"s":"b2","x":2074,"y":1.9},{"s":"b2","x":2076,"y":1.86},{"s":"b2","x":2078,"y":1.84},
{"s":"b2","x":2080,"y":1.98},{"s":"b2","x":2082,"y":2.07},{"s":"b2","x":2084,"y":1.95},{"s":"b2","x":2086,"y":1.84},{"s":"b2","x":2088,"y":1.9},{"s":"b2","x":2090,"y":2.0},{"s":"b2","x":2092,"y":2.05},{"s":"b2","x":2094,"y":1.98},{"s":"b2","x":2096,"y":2.08},{"s":"b2","x":2098,"y":2.17},{"s":"b2","x":2100,"y":2.26},
{"s":"ob","x":1900,"y":-0.7},{"s":"ob","x":1903,"y":-0.7},{"s":"ob","x":1906,"y":-0.84},{"s":"ob","x":1908,"y":-1.01},{"s":"ob","x":1910,"y":-0.9},{"s":"ob","x":1912,"y":-0.67},{"s":"ob","x":1914,"y":-0.56},{"s":"ob","x":1916,"y":-0.45},{"s":"ob","x":1918,"y":-0.56},{"s":"ob","x":1920,"y":-0.7},
{"s":"ob","x":1922,"y":-0.56},{"s":"ob","x":1924,"y":-0.62},{"s":"ob","x":1926,"y":-0.73},{"s":"ob","x":1928,"y":-0.62},{"s":"ob","x":1930,"y":-0.5},{"s":"ob","x":1932,"y":-0.62},{"s":"ob","x":1934,"y":-0.59},{"s":"ob","x":1936,"y":-0.48},{"s":"ob","x":1938,"y":-0.42},{"s":"ob","x":1940,"y":-0.56},
{"s":"ob","x":1942,"y":-0.67},{"s":"ob","x":1944,"y":-0.81},{"s":"ob","x":1946,"y":-0.62},{"s":"ob","x":1948,"y":-0.34},{"s":"ob","x":1950,"y":-0.25},{"s":"ob","x":1952,"y":-0.28},{"s":"ob","x":1954,"y":-0.34},{"s":"ob","x":1956,"y":-0.17},{"s":"ob","x":1958,"y":0.06},{"s":"ob","x":1960,"y":0.11},
{"s":"ob","x":1962,"y":-0.17},{"s":"ob","x":1964,"y":-0.28},{"s":"ob","x":1966,"y":-0.39},{"s":"ob","x":1968,"y":-0.37},{"s":"ob","x":1970,"y":-0.28},{"s":"ob","x":1972,"y":-0.31},{"s":"ob","x":1974,"y":-0.34},{"s":"ob","x":1976,"y":-0.14},{"s":"ob","x":1978,"y":-0.2},{"s":"ob","x":1980,"y":-0.34},
{"s":"ob","x":1982,"y":-0.45},{"s":"ob","x":1984,"y":-0.22},{"s":"ob","x":1986,"y":-0.37},{"s":"ob","x":1988,"y":0.0},{"s":"ob","x":1990,"y":0.34},{"s":"ob","x":1992,"y":0.39},{"s":"ob","x":1994,"y":0.22},{"s":"ob","x":1996,"y":0.39},{"s":"ob","x":1998,"y":0.62},{"s":"ob","x":2000,"y":0.67},
{"s":"ob","x":2002,"y":0.45},{"s":"ob","x":2004,"y":0.37}
],
"la": [
{"t":"GCM","x":1935,"y":1.08},{"t":"Obs","x":1975.4,"y":-1.41},{"t":"A2","x":2111,"y":3.01},{"t":"B2","x":2111,"y":2.03}
],
"lb": [
{"t":"GCM","x":1935.2,"y":0.52},{"t":"Obs","x":1975,"y":-0.82},{"t":"A2","x":2111,"y":3.0},{"t":"B2","x":2111,"y":2.03}
]
},
"hconcat": [
{
 "width": 403, "height": 357,
 "title": "(a) Ta over Japan (Annual)",
 "encoding": {
  "x": {"field": "x", "type": "quantitative", "scale": {"domain": [1900, 2100], "nice": false}, "axis": {"title": "year", "values": [1900, 1950, 2000, 2050, 2100], "format": "d", "labelFlush": false, "labelPadding": 4, "titlePadding": 3}},
  "y": {"field": "y", "type": "quantitative", "scale": {"domain": [-2, 4], "nice": false, "zero": false}, "axis": {"title": "Temperature anomaly (C)", "values": [-2, -1.5, -1, -0.5, 0, 0.5, 1, 1.5, 2, 2.5, 3, 3.5, 4], "format": "~f", "labelPadding": 2, "titlePadding": 8}}
 },
 "layer": [
  {"data": {"name": "a"}, "transform": [{"filter": {"field": "s", "oneOf": ["g1", "g2", "g3"]}}], "mark": {"type": "line", "color": "black", "strokeWidth": 1.1}, "encoding": {"detail": {"field": "s"}}},
  {"data": {"name": "a"}, "transform": [{"filter": {"field": "s", "oneOf": ["b1", "b2"]}}], "mark": {"type": "line", "color": "black", "strokeWidth": 1.1, "strokeDash": [2, 1.5]}, "encoding": {"detail": {"field": "s"}}},
  {"data": {"name": "a"}, "transform": [{"filter": {"field": "s", "equal": "ob"}}], "mark": {"type": "line", "color": "black", "strokeWidth": 2.4}},
  {"mark": {"type": "rule", "color": "black", "strokeWidth": 1}, "encoding": {"y": {"datum": 0}}},
  {"data": {"name": "la"}, "mark": {"type": "text", "align": "center", "baseline": "middle"}, "encoding": {"text": {"field": "t"}}}
 ]
},
{
 "width": 403, "height": 357,
 "title": "(b) Ta over Japan (Annual)",
 "encoding": {
  "x": {"field": "x", "type": "quantitative", "scale": {"domain": [1900, 2100], "nice": false}, "axis": {"title": "year", "values": [1900, 1950, 2000, 2050, 2100], "format": "d", "labelFlush": false, "labelPadding": 4, "titlePadding": 3}},
  "y": {"field": "y", "type": "quantitative", "scale": {"domain": [-2, 4], "nice": false, "zero": false}, "axis": {"title": "Temperature anomaly (C)", "values": [-2, -1.5, -1, -0.5, 0, 0.5, 1, 1.5, 2, 2.5, 3, 3.5, 4], "format": "~f", "labelPadding": 2, "titlePadding": 8}}
 },
 "layer": [
  {"data": {"name": "b"}, "transform": [{"filter": {"field": "s", "equal": "gcm"}}], "mark": {"type": "line", "color": "black", "strokeWidth": 1}},
  {"data": {"name": "b"}, "transform": [{"filter": {"field": "s", "equal": "b2"}}], "mark": {"type": "line", "color": "black", "strokeWidth": 1, "strokeDash": [2, 2]}},
  {"data": {"name": "b"}, "transform": [{"filter": {"field": "s", "equal": "ob"}}], "mark": {"type": "line", "color": "black", "strokeWidth": 3, "strokeDash": [10, 4]}},
  {"mark": {"type": "rule", "color": "black", "strokeWidth": 1}, "encoding": {"y": {"datum": 0}}},
  {"data": {"name": "lb"}, "mark": {"type": "text", "align": "center", "baseline": "middle"}, "encoding": {"text": {"field": "t"}}}
 ]
}
]
}
